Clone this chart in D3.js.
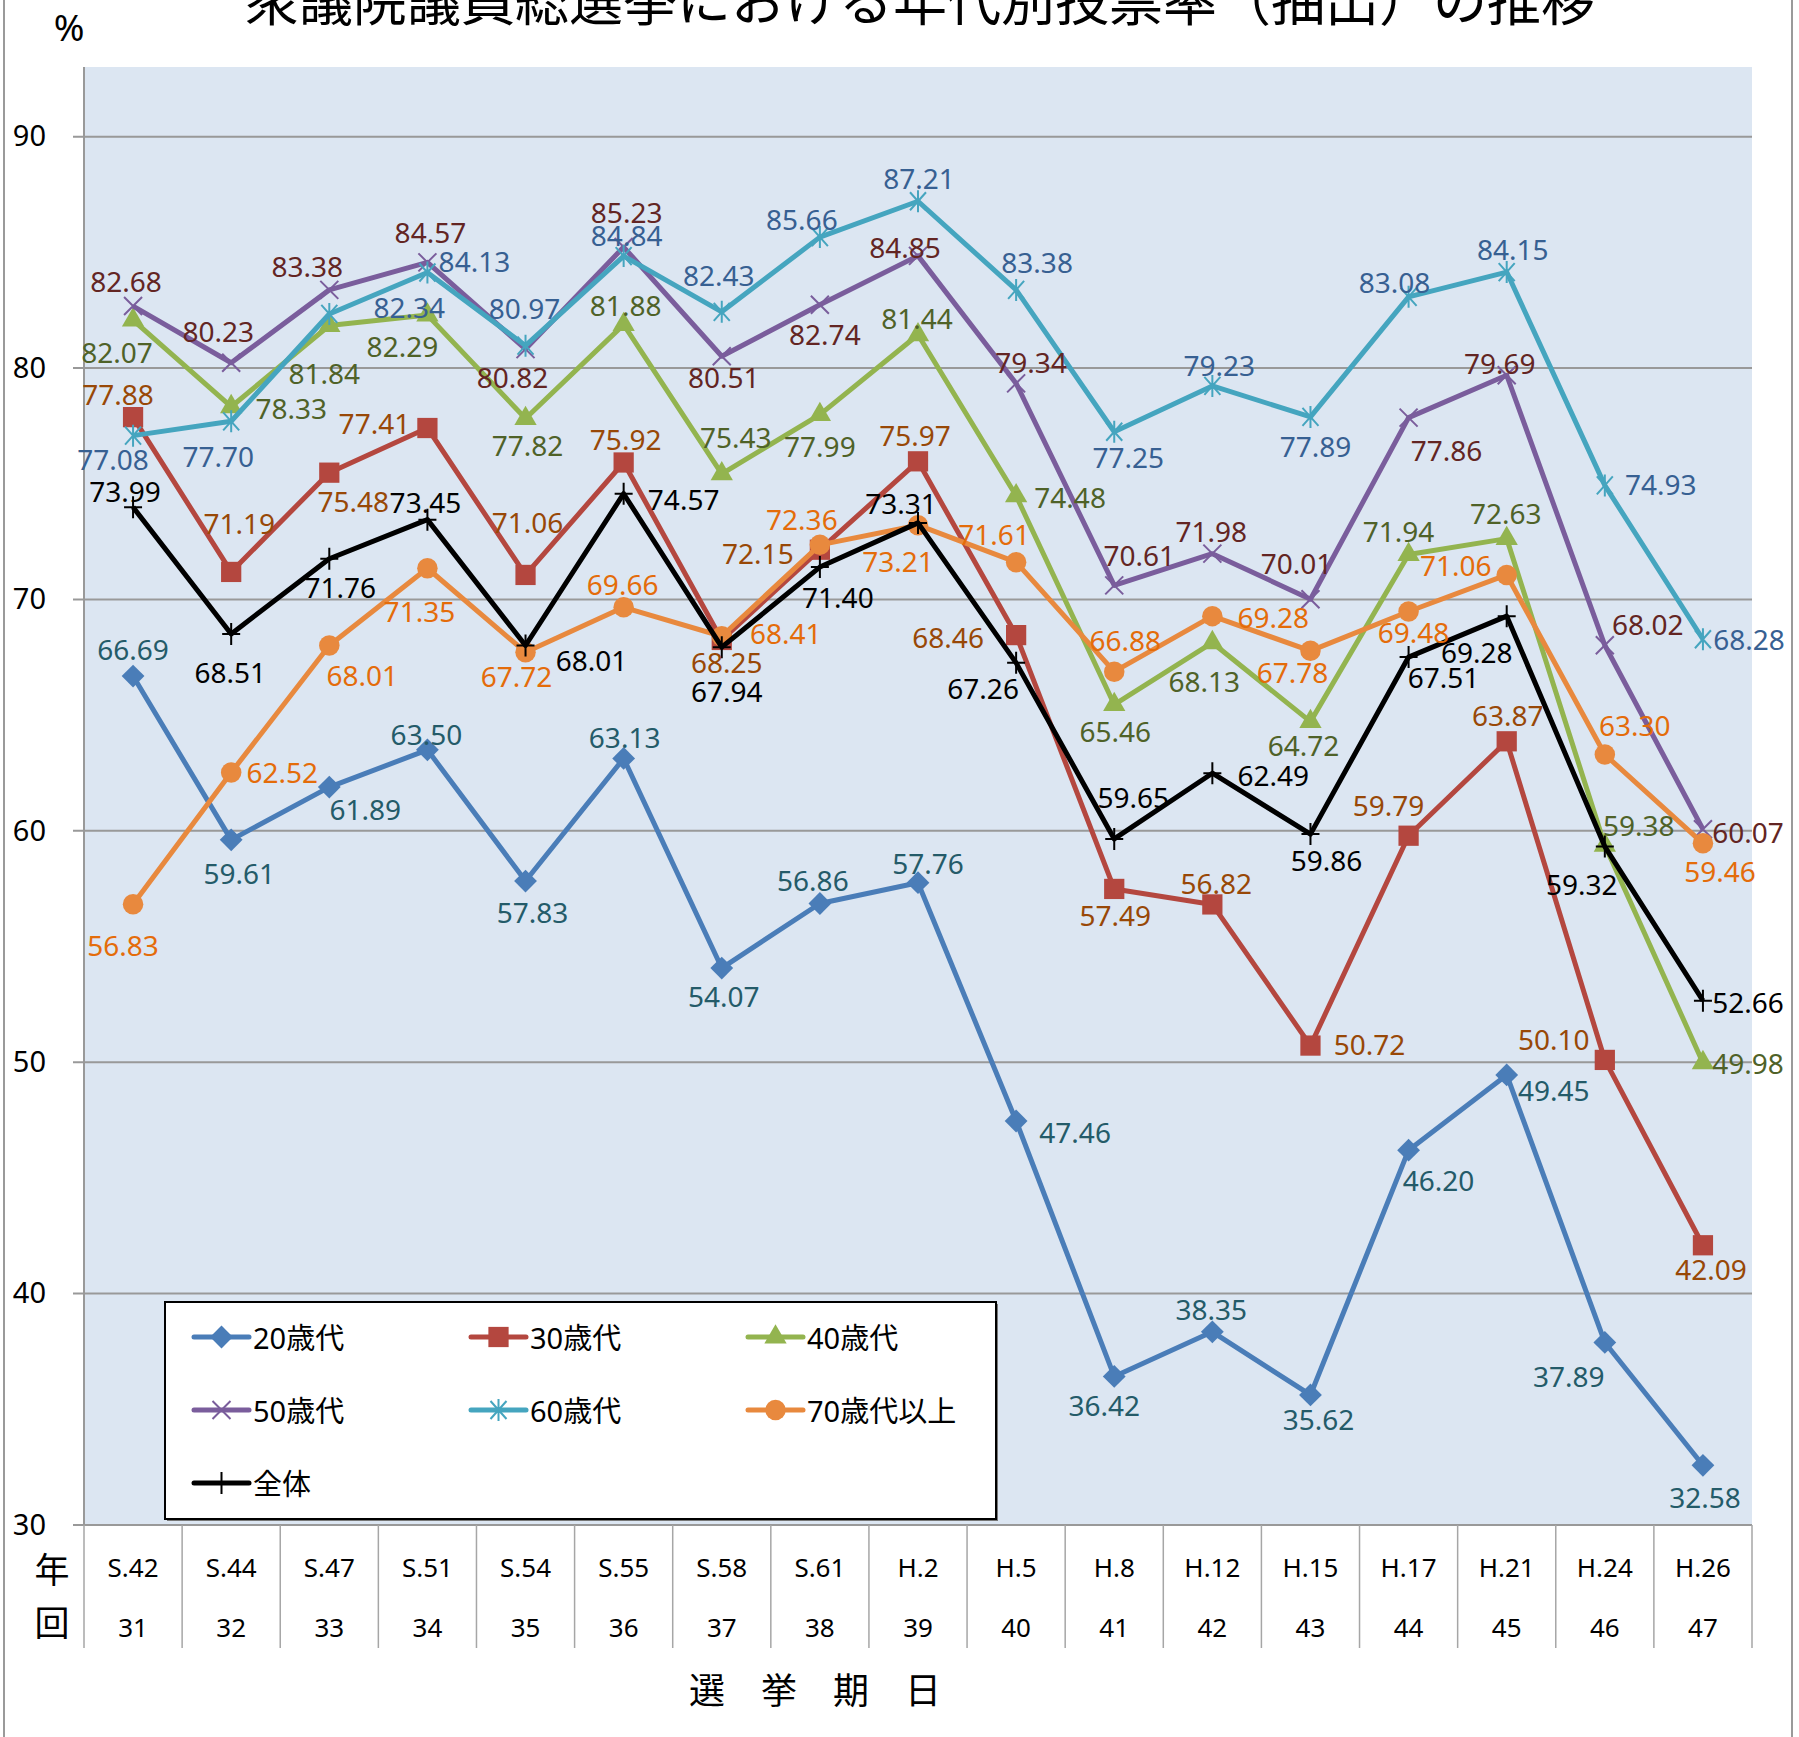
<!DOCTYPE html>
<html>
<head>
<meta charset="utf-8">
<script src="https://cdn.jsdelivr.net/npm/d3@7"></script>
<style>
  body { margin: 0; background: #fff; }
  svg { display: block; }
  text { font-family: "Noto Sans", "Noto Sans CJK JP", sans-serif; }
</style>
</head>
<body>
<div id="chart"></div>
<script>
// election dates and rounds
var years = ["S.42","S.44","S.47","S.51","S.54","S.55","S.58","S.61","H.2","H.5","H.8","H.12","H.15","H.17","H.21","H.24","H.26"];
var rounds = ["31","32","33","34","35","36","37","38","39","40","41","42","43","44","45","46","47"];
var yTicks = [30, 40, 50, 60, 70, 80, 90];

// turnout by age group (%)
var age20 = [66.69,59.61,61.89,63.50,57.83,63.13,54.07,56.86,57.76,47.46,36.42,38.35,35.62,46.20,49.45,37.89,32.58];
var age30 = [77.88,71.19,75.48,77.41,71.06,75.92,68.25,72.15,75.97,68.46,57.49,56.82,50.72,59.79,63.87,50.10,42.09];
var age40 = [82.07,78.33,81.84,82.29,77.82,81.88,75.43,77.99,81.44,74.48,65.46,68.13,64.72,71.94,72.63,59.38,49.98];
var age50 = [82.68,80.23,83.38,84.57,80.82,85.23,80.51,82.74,84.85,79.34,70.61,71.98,70.01,77.86,79.69,68.02,60.07];
var age60 = [77.08,77.70,82.34,84.13,80.97,84.84,82.43,85.66,87.21,83.38,77.25,79.23,77.89,83.08,84.15,74.93,68.28];
var age70 = [56.83,62.52,68.01,71.35,67.72,69.66,68.41,72.36,73.21,71.61,66.88,69.28,67.78,69.48,71.06,63.30,59.46];
var total = [73.99,68.51,71.76,73.45,68.01,74.57,67.94,71.40,73.31,67.26,59.65,62.49,59.86,67.51,69.28,59.32,52.66];

// hand placed data label offsets (px from the point), like the excel original
var off20 = [[0,-27],[8,33],[36,22],[-1,-16],[7,31],[1,-21],[2,28],[-7,-24],[10,-20],[59,11],[-10,29],[-1,-23],[8,24],[30,30],[47,15],[-36,34],[2,32]];
var off30 = [[-15,-23],[8,-49],[24,28],[-53,-5],[2,-53],[2,-23],[5,22],[-62,3],[-3,-26],[-68,2],[1,26],[4,-21],[59,-2],[-20,-31],[1,-26],[-51,-21],[8,24]];
var off40 = [[-16,32],[60,1],[-5,47],[-25,31],[2,26],[2,-20],[14,-37],[0,31],[-1,-17],[54,1],[1,26],[-8,38],[-7,23],[-10,-24],[-1,-26],[34,-20],[45,0]];
var off50 = [[-7,-25],[-13,-32],[-22,-24],[3,-30],[-13,28],[3,-35],[2,21],[5,29],[-13,-9],[15,-21],[25,-30],[-1,-23],[-14,-36],[38,32],[-7,-12],[43,-21],[45,3]];
var off60 = [[-20,23],[-13,35],[80,-7],[47,-12],[-1,-38],[3,-21],[-3,-37],[-18,-18],[1,-23],[21,-28],[14,25],[7,-21],[5,29],[-14,-15],[6,-23],[56,-1],[46,0]];
var off70 = [[-10,41],[51,-1],[33,29],[-8,43],[-9,24],[-1,-23],[64,-3],[-18,-26],[-20,36],[-22,-28],[11,-32],[61,1],[-18,21],[5,21],[-51,-10],[30,-29],[17,28]];
var offAll = [[-8,-16],[-1,38],[11,28],[-2,-18],[66,14],[60,5],[5,44],[18,30],[-17,-20],[-33,25],[19,-42],[61,2],[16,26],[35,20],[-30,36],[-23,37],[45,1]];

var series = [
  {name: "20歳代", values: age20, off: off20, line: "#4A7DB8", label: "#245B69", marker: "diamond"},
  {name: "30歳代", values: age30, off: off30, line: "#B4473F", label: "#984807", marker: "square"},
  {name: "40歳代", values: age40, off: off40, line: "#93B44F", label: "#4F6228", marker: "triangle"},
  {name: "50歳代", values: age50, off: off50, line: "#7A5D9C", label: "#632523", marker: "x"},
  {name: "60歳代", values: age60, off: off60, line: "#45A5BF", label: "#376092", marker: "star"},
  {name: "70歳代以上", values: age70, off: off70, line: "#E8893E", label: "#E46C0A", marker: "circle"},
  {name: "全体", values: total, off: offAll, line: "#000000", label: "#000000", marker: "plus"}
];

var W = 1799, H = 1737;
var plot = {left: 84, right: 1752, top: 67, bottom: 1525};

var svg = d3.select("#chart").append("svg")
    .attr("width", W)
    .attr("height", H);

// outer frame
svg.append("line").attr("x1", 4).attr("x2", 4).attr("y1", 0).attr("y2", H)
    .style("stroke", "#9a9a9a").style("stroke-width", 2);
svg.append("line").attr("x1", 1792).attr("x2", 1792).attr("y1", 0).attr("y2", H)
    .style("stroke", "#9a9a9a").style("stroke-width", 2);

// title (cut off at the top in the original)
svg.append("text")
    .attr("x", 920).attr("y", 21)
    .attr("text-anchor", "middle")
    .style("font-family", "'Noto Sans CJK JP'")
    .style("font-size", "54px")
    .style("fill", "#000")
    .text("衆議院議員総選挙における年代別投票率（抽出）の推移");

svg.append("text")
    .attr("x", 69).attr("y", 41)
    .attr("text-anchor", "middle")
    .style("font-size", "37px")
    .text("%");

var x = d3.scalePoint().domain(years).range([plot.left, plot.right]).padding(0.5);
var y = d3.scaleLinear().domain([30, 90]).range([plot.bottom, 136.7]);

// plot background
svg.append("rect")
    .attr("x", plot.left).attr("y", plot.top)
    .attr("width", plot.right - plot.left)
    .attr("height", plot.bottom - plot.top)
    .style("fill", "#DCE6F2");

// gridlines
svg.append("g")
  .selectAll("line")
  .data(yTicks)
  .enter().append("line")
    .attr("x1", plot.left - 11).attr("x2", plot.right)
    .attr("y1", function(d) { return y(d); })
    .attr("y2", function(d) { return y(d); })
    .style("stroke", "#999")
    .style("stroke-width", 2);

// y axis
var yAxis = svg.append("g")
    .attr("transform", "translate(" + plot.left + ",0)")
    .call(d3.axisLeft(y).tickValues(yTicks).tickSize(0).tickPadding(38));
yAxis.select(".domain").remove();
yAxis.selectAll("text").style("font-size", "29px").style("fill", "#000")
    .style("font-family", "'Noto Sans'");
svg.append("line")
    .attr("x1", plot.left).attr("x2", plot.left)
    .attr("y1", plot.top).attr("y2", plot.bottom)
    .style("stroke", "#999").style("stroke-width", 2);

// category table under the plot
var step = x.step();
var seps = years.map(function(d) { return x(d) - step / 2; });
seps.push(x(years[years.length - 1]) + step / 2);
svg.append("g").selectAll("line")
  .data(seps)
  .enter().append("line")
    .attr("x1", function(d) { return d; })
    .attr("x2", function(d) { return d; })
    .attr("y1", plot.bottom).attr("y2", 1648)
    .style("stroke", "#a6a6a6").style("stroke-width", 1.5);

svg.append("g").selectAll("text")
  .data(years)
  .enter().append("text")
    .attr("x", function(d) { return x(d); })
    .attr("y", 1567)
    .attr("text-anchor", "middle")
    .attr("dominant-baseline", "central")
    .style("font-size", "26px")
    .text(function(d) { return d; });

svg.append("g").selectAll("text")
  .data(rounds)
  .enter().append("text")
    .attr("x", function(d, i) { return x(years[i]); })
    .attr("y", 1627)
    .attr("text-anchor", "middle")
    .attr("dominant-baseline", "central")
    .style("font-size", "26px")
    .text(function(d) { return d; });

svg.append("text").attr("x", 52).attr("y", 1567)
    .attr("text-anchor", "middle").attr("dominant-baseline", "central")
    .style("font-family", "'Noto Sans CJK JP'").style("font-size", "35px")
    .text("年");
svg.append("text").attr("x", 52).attr("y", 1620)
    .attr("text-anchor", "middle").attr("dominant-baseline", "central")
    .style("font-family", "'Noto Sans CJK JP'").style("font-size", "35px")
    .text("回");

svg.append("text")
    .attr("x", 815).attr("y", 1688)
    .attr("text-anchor", "middle").attr("dominant-baseline", "central")
    .style("font-family", "'Noto Sans CJK JP'")
    .style("font-size", "36px")
    .style("word-spacing", "20px")
    .attr("xml:space", "preserve")
    .text("選　挙　期　日");

// markers
function drawMarker(g, type, color) {
  if (type == "diamond") {
    g.append("path").attr("d", d3.symbol().type(d3.symbolSquare).size(260)())
      .attr("transform", "rotate(45)").style("fill", color);
  } else if (type == "square") {
    g.append("path").attr("d", d3.symbol().type(d3.symbolSquare).size(410)()).style("fill", color);
  } else if (type == "triangle") {
    g.append("path").attr("d", d3.symbol().type(d3.symbolTriangle).size(215)()).style("fill", color);
  } else if (type == "circle") {
    g.append("path").attr("d", d3.symbol().type(d3.symbolCircle).size(330)()).style("fill", color);
  } else if (type == "x") {
    g.append("path").attr("d", "M-9,-9L9,9M-9,9L9,-9")
      .style("stroke", color).style("stroke-width", 2).style("fill", "none");
  } else if (type == "star") {
    g.append("path").attr("d", "M-8,-9L8,9M-8,9L8,-9M0,-11V11")
      .style("stroke", color).style("stroke-width", 2).style("fill", "none");
  } else if (type == "plus") {
    g.append("path").attr("d", "M-9,0H9M0,-11V11")
      .style("stroke", color).style("stroke-width", 2).style("fill", "none");
  }
}

var line = d3.line()
    .x(function(d, i) { return x(years[i]); })
    .y(function(d) { return y(d); });

series.forEach(function(s) {
  var g = svg.append("g");
  g.append("path")
      .datum(s.values)
      .attr("d", line)
      .style("fill", "none")
      .style("stroke", s.line)
      .style("stroke-width", 5)
      .style("stroke-linejoin", "round");
  s.values.forEach(function(v, i) {
    var m = g.append("g").attr("transform", "translate(" + x(years[i]) + "," + y(v) + ")");
    drawMarker(m, s.marker, s.line);
  });
});

// data labels on top
series.forEach(function(s) {
  svg.append("g").selectAll("text")
    .data(s.values)
    .enter().append("text")
      .attr("x", function(d, i) { return x(years[i]) + s.off[i][0]; })
      .attr("y", function(d, i) { return y(d) + s.off[i][1]; })
      .attr("text-anchor", "middle")
      .attr("dominant-baseline", "central")
      .style("font-size", "28px")
      .style("fill", s.label)
      .text(function(d) { return d3.format(".2f")(d); });
});

// legend
var lg = svg.append("g");
lg.append("rect").attr("x", 167).attr("y", 1304).attr("width", 831).attr("height", 217)
    .style("fill", "#777");
lg.append("rect").attr("x", 165).attr("y", 1302).attr("width", 831).attr("height", 217)
    .style("fill", "#fff").style("stroke", "#000").style("stroke-width", 2);
var colX = [194, 471, 748], rowY = [1337, 1410, 1483];
series.forEach(function(s, i) {
  var lx = colX[i % 3], ly = rowY[Math.floor(i / 3)];
  var e = lg.append("g");
  e.append("line").attr("x1", lx).attr("x2", lx + 55).attr("y1", ly).attr("y2", ly)
      .style("stroke", s.line).style("stroke-width", 5).style("stroke-linecap", "round");
  drawMarker(e.append("g").attr("transform", "translate(" + (lx + 27.5) + "," + ly + ")"), s.marker, s.line);
  e.append("text")
      .attr("x", lx + 59).attr("y", ly)
      .attr("dominant-baseline", "central")
      .style("font-size", "29px")
      .text(s.name);
});
</script>
</body>
</html>
